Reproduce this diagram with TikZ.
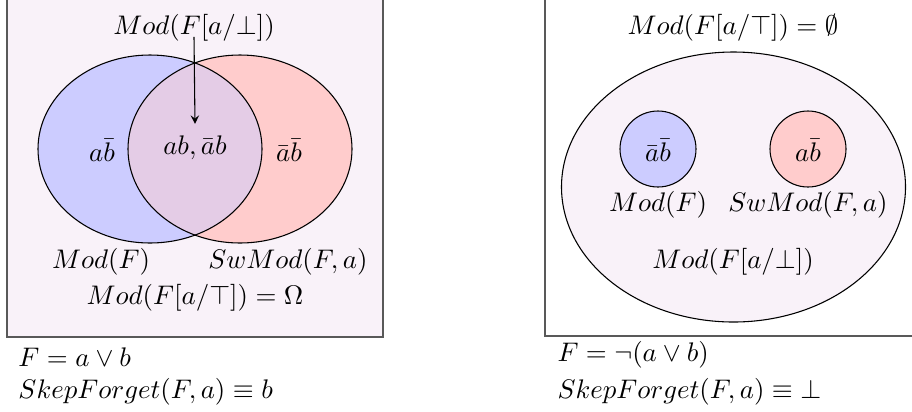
\documentclass[tikz,border=0pt]{standalone}
\usepackage{amsmath}
\usepackage{amssymb}
\usepackage{tikz}
\usetikzlibrary{positioning}

\begin{document}
\begin{tikzpicture}[x=0.372pt, y=-0.372pt,
    box/.style={draw=black!65, line width=0.6pt},
    set/.style={draw=black, line width=0.4pt},
    both/.style={fill={rgb,255:red,228;green,204;blue,230}}]
  \path[use as bounding box] (0,0) rectangle (912,411);

  % left: F = a or b
  \draw[box, fill=violet!5] (7,-20) rectangle (383,337);
  \fill[blue!20] (150,149) ellipse [x radius=112, y radius=94];
  \fill[red!20] (240,149) ellipse [x radius=112, y radius=94];
  \begin{scope}
    \clip (150,149) ellipse [x radius=112, y radius=94];
    \fill[both] (240,149) ellipse [x radius=112, y radius=94];
  \end{scope}
  \draw[set] (150,149) ellipse [x radius=112, y radius=94];
  \draw[set] (240,149) ellipse [x radius=112, y radius=94];

  \node (lbot) at (194,28) {$Mod(F[a/\bot])$};
  \node (lab) at (195,148) {$ab, \bar{a}b$};
  \node (la) at (102,150) {$a\bar{b}$};
  \node (lb) at (289,150) {$\bar{a}\bar{b}$};
  \node (lmod) at (101,262) {$Mod(F)$};
  \node (lsw) at (288,262) {$SwMod(F,a)$};
  \node (ltop) at (195,298) {$Mod(F[a/\top]) = \Omega$};
  \draw[-stealth] ([yshift=-3.3pt]lbot.center) -- ([yshift=1pt]lab.north);

  \node[anchor=west] (lf) at (9,357) {$F = a \vee b$};
  \node[anchor=west] (lskep) at (9,392) {$SkepForget(F,a) \equiv b$};

  % right: F = not (a or b)
  \draw[box] (545,-20) rectangle (930,336);
  \node (rtop) at (733,28) {$Mod(F[a/\top]) = \emptyset$};
  \draw[set, fill=violet!5] (733.5,187) ellipse [x radius=172, y radius=135];
  \draw[set, fill=blue!20] (658,149) circle [radius=38];
  \draw[set, fill=red!20] (808,149) circle [radius=38];

  \node (rab) at (658,150) {$\bar{a}\bar{b}$};
  \node (ra) at (808,150) {$a\bar{b}$};
  \node (rmod) at (658,205) {$Mod(F)$};
  \node (rsw) at (808,205) {$SwMod(F,a)$};
  \node (rbot) at (733,262) {$Mod(F[a/\bot])$};

  \node[anchor=west] (rf) at (548,355) {$F = \neg(a \vee b)$};
  \node[anchor=west] (rskep) at (548,392) {$SkepForget(F,a) \equiv \bot$};
\end{tikzpicture}
\end{document}
